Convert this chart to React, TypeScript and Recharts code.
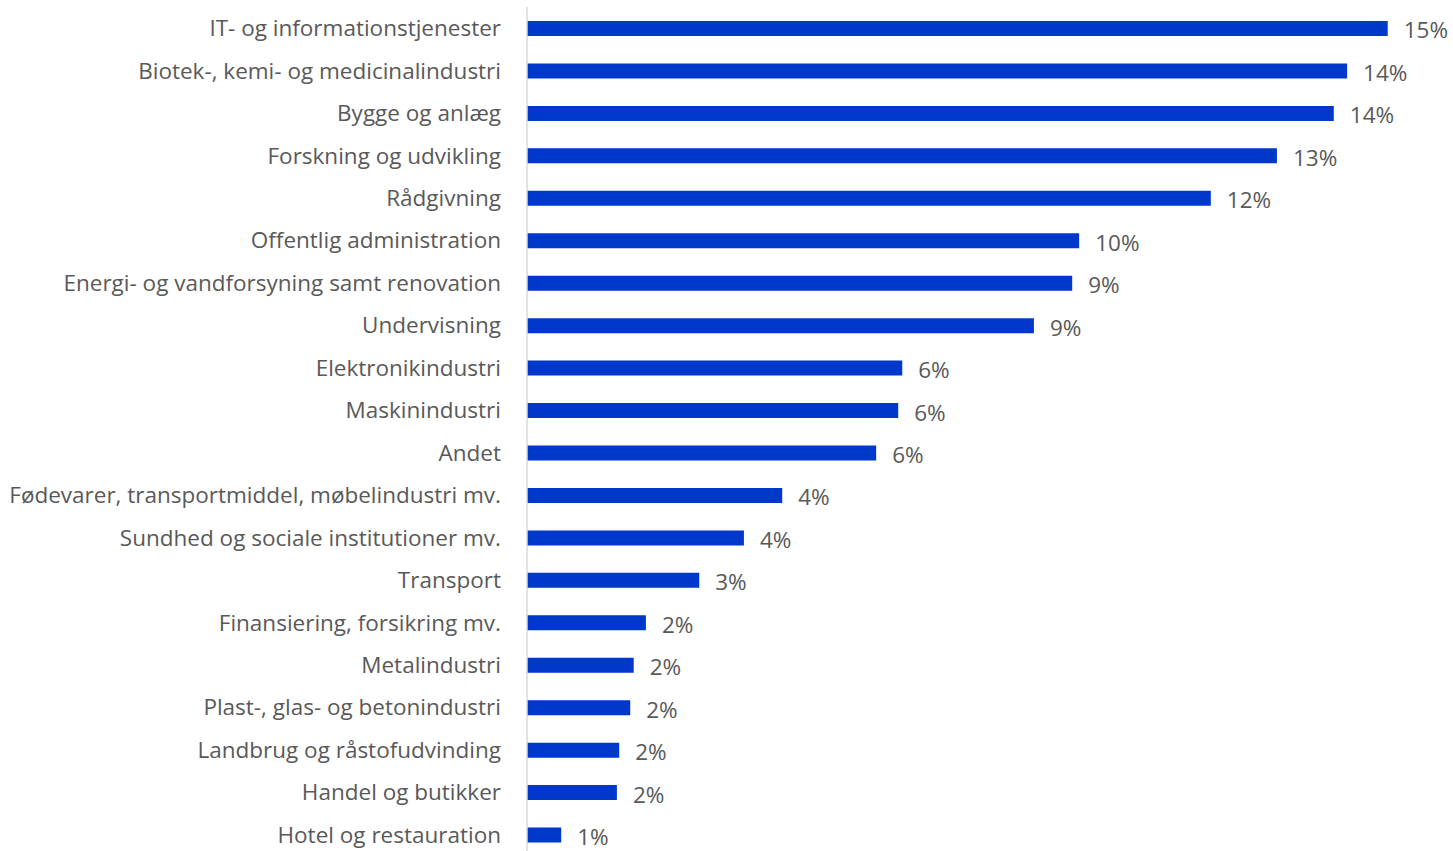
import React from 'react';
import { BarChart, Bar, XAxis, YAxis, LabelList } from 'recharts';

const categories = [
  'IT- og informationstjenester',
  'Biotek-, kemi- og medicinalindustri',
  'Bygge og anlæg',
  'Forskning og udvikling',
  'Rådgivning',
  'Offentlig administration',
  'Energi- og vandforsyning samt renovation',
  'Undervisning',
  'Elektronikindustri',
  'Maskinindustri',
  'Andet',
  'Fødevarer, transportmiddel, møbelindustri mv.',
  'Sundhed og sociale institutioner mv.',
  'Transport',
  'Finansiering, forsikring mv.',
  'Metalindustri',
  'Plast-, glas- og betonindustri',
  'Landbrug og råstofudvinding',
  'Handel og butikker',
  'Hotel og restauration',
];

const shares = [
  14.84, 14.14, 13.91, 12.93, 11.79, 9.52, 9.4, 8.74, 6.47, 6.4, 6.02, 4.4, 3.74, 2.97,
  2.05, 1.84, 1.78, 1.59, 1.55, 0.59,
];

const data = categories.map((name, i) => ({ name, value: shares[i] }));

const FONT = '"Open Sans", "Noto Sans", sans-serif';

export default function App() {
  return (
    <div style={{ position: 'absolute', left: 0, top: 0, width: 1453, height: 851, overflow: 'hidden', background: '#fff' }}>
      <BarChart
        width={1453}
        height={860}
        data={data}
        layout="vertical"
        margin={{ top: 7, right: 27, bottom: 4, left: 0 }}
        barCategoryGap={0}
      >
        <XAxis type="number" domain={[0, 15.5]} hide />
        <YAxis
          type="category"
          dataKey="name"
          width={527}
          axisLine={{ stroke: '#d9d9d9', strokeWidth: 1.5 }}
          tickLine={false}
          tickSize={0}
          tickMargin={26}
          interval={0}
          tick={{ fill: '#595959', fontSize: 22.5, fontFamily: FONT }}
        />
        <Bar dataKey="value" fill="#0038CC" barSize={15} isAnimationActive={false}>
          <LabelList
            dataKey="value"
            position="right"
            offset={16}
            formatter={(v: number) => `${Math.round(v)}%`}
            style={{ fill: '#595959', fontSize: 22.5, fontFamily: FONT }}
            dy={2}
          />
        </Bar>
      </BarChart>
    </div>
  );
}
